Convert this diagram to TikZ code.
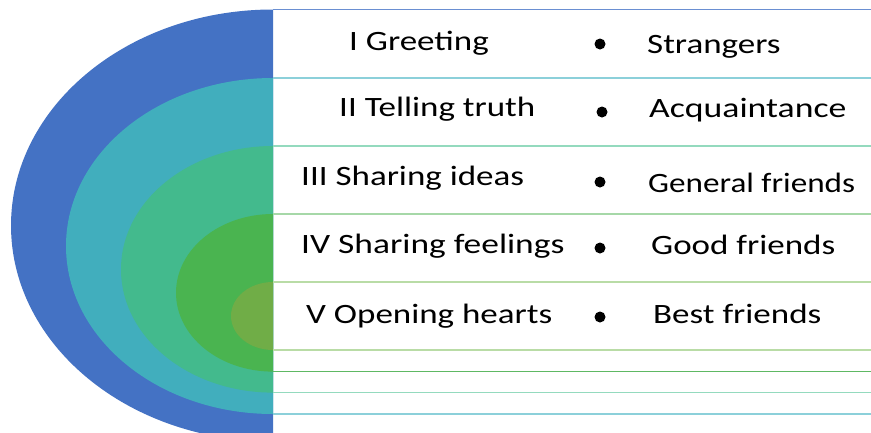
\documentclass[tikz,border=0pt]{standalone}
\usepackage{fontspec}
\setmainfont{Carlito}
\usepackage{graphicx}
\definecolor{cblue}{HTML}{4472C4}
\definecolor{cteal}{HTML}{41AEBD}
\definecolor{cgteal}{HTML}{43BA8D}
\definecolor{cgreen}{HTML}{4AB450}
\definecolor{colive}{HTML}{70AD47}
\definecolor{lblue}{HTML}{6A8FD2}
\definecolor{lteal}{HTML}{8CD0DA}
\definecolor{lgteal}{HTML}{94DABE}
\definecolor{lgreen}{HTML}{A6D8A8}
\definecolor{lolive}{HTML}{B9DCA6}
\definecolor{dgreen}{HTML}{5EB863}
\tikzset{
  lbl/.style={anchor=base west, inner sep=0pt, font=\fontsize{28}{30}\selectfont, text=black},
  dotb/.style={circle, fill=black, inner sep=0pt, minimum size=11pt},
  rule/.style={line width=1.5pt}
}
\newcommand{\wide}[2][1.23]{\scalebox{#1}[1]{#2}}
\begin{document}
\begin{tikzpicture}[x=1pt,y=-1pt]
\useasboundingbox (0,0) rectangle (871,432);
\fill[white] (0,0) rectangle (871,432);
\begin{scope}
\clip (0,0) rectangle (273,432);
\fill[cblue] (273,225.5) ellipse [x radius=262, y radius=216];
\fill[cteal] (273,246) ellipse [x radius=207, y radius=168];
\fill[cgteal] (273,269.3) ellipse [x radius=152, y radius=123.3];
\fill[cgreen] (273,292.8) ellipse [x radius=97, y radius=78.8];
\fill[colive] (273,316) ellipse [x radius=42, y radius=34];
\end{scope}
\coordinate (l1a) at (273,9.3);   \coordinate (l1b) at (871,9.3);
\coordinate (l2a) at (273,78);    \coordinate (l2b) at (871,78);
\coordinate (l3a) at (273,146);   \coordinate (l3b) at (871,146);
\coordinate (l4a) at (273,214);   \coordinate (l4b) at (871,214);
\coordinate (l5a) at (273,282);   \coordinate (l5b) at (871,282);
\coordinate (l6a) at (273,350);   \coordinate (l6b) at (871,350);
\coordinate (l7a) at (273,371.7); \coordinate (l7b) at (871,371.7);
\coordinate (l8a) at (273,392.7); \coordinate (l8b) at (871,392.7);
\coordinate (l9a) at (273,414);   \coordinate (l9b) at (871,414);
\draw[rule,lblue] (l1a) -- (l1b);
\draw[rule,lteal] (l2a) -- (l2b);
\draw[rule,lgteal] (l3a) -- (l3b);
\draw[rule,lgreen] (l4a) -- (l4b);
\draw[rule,lolive] (l5a) -- (l5b);
\draw[rule,lolive] (l6a) -- (l6b);
\draw[rule,dgreen] (l7a) -- (l7b);
\draw[rule,lgteal] (l8a) -- (l8b);
\draw[rule,lteal] (l9a) -- (l9b);
\node[lbl] (s1) at (349,50) {\wide[1.25]{I Greeting}};
\node[lbl] (s2) at (339,116.5) {\wide[1.25]{II Telling truth}};
\node[lbl] (s3) at (301,185) {\wide[1.25]{III Sharing ideas}};
\node[lbl] (s4) at (301,253) {\wide[1.265]{IV Sharing feelings}};
\node[lbl] (s5) at (306,323) {\wide[1.25]{V Opening hearts}};
\node[dotb] (b1) at (600,44) {};
\node[dotb] (b2) at (602,112) {};
\node[dotb] (b3) at (600,182) {};
\node[dotb] (b4) at (600,248) {};
\node[dotb] (b5) at (600,317) {};
\node[lbl] (f1) at (647,53) {\wide[1.25]{Strangers}};
\node[lbl] (f2) at (649,117) {\wide[1.275]{Acquaintance}};
\node[lbl] (f3) at (648,192) {\wide[1.185]{General friends}};
\node[lbl] (f4) at (651,254) {\wide[1.25]{Good friends}};
\node[lbl] (f5) at (653,323) {\wide[1.25]{Best friends}};
\end{tikzpicture}
\end{document}
